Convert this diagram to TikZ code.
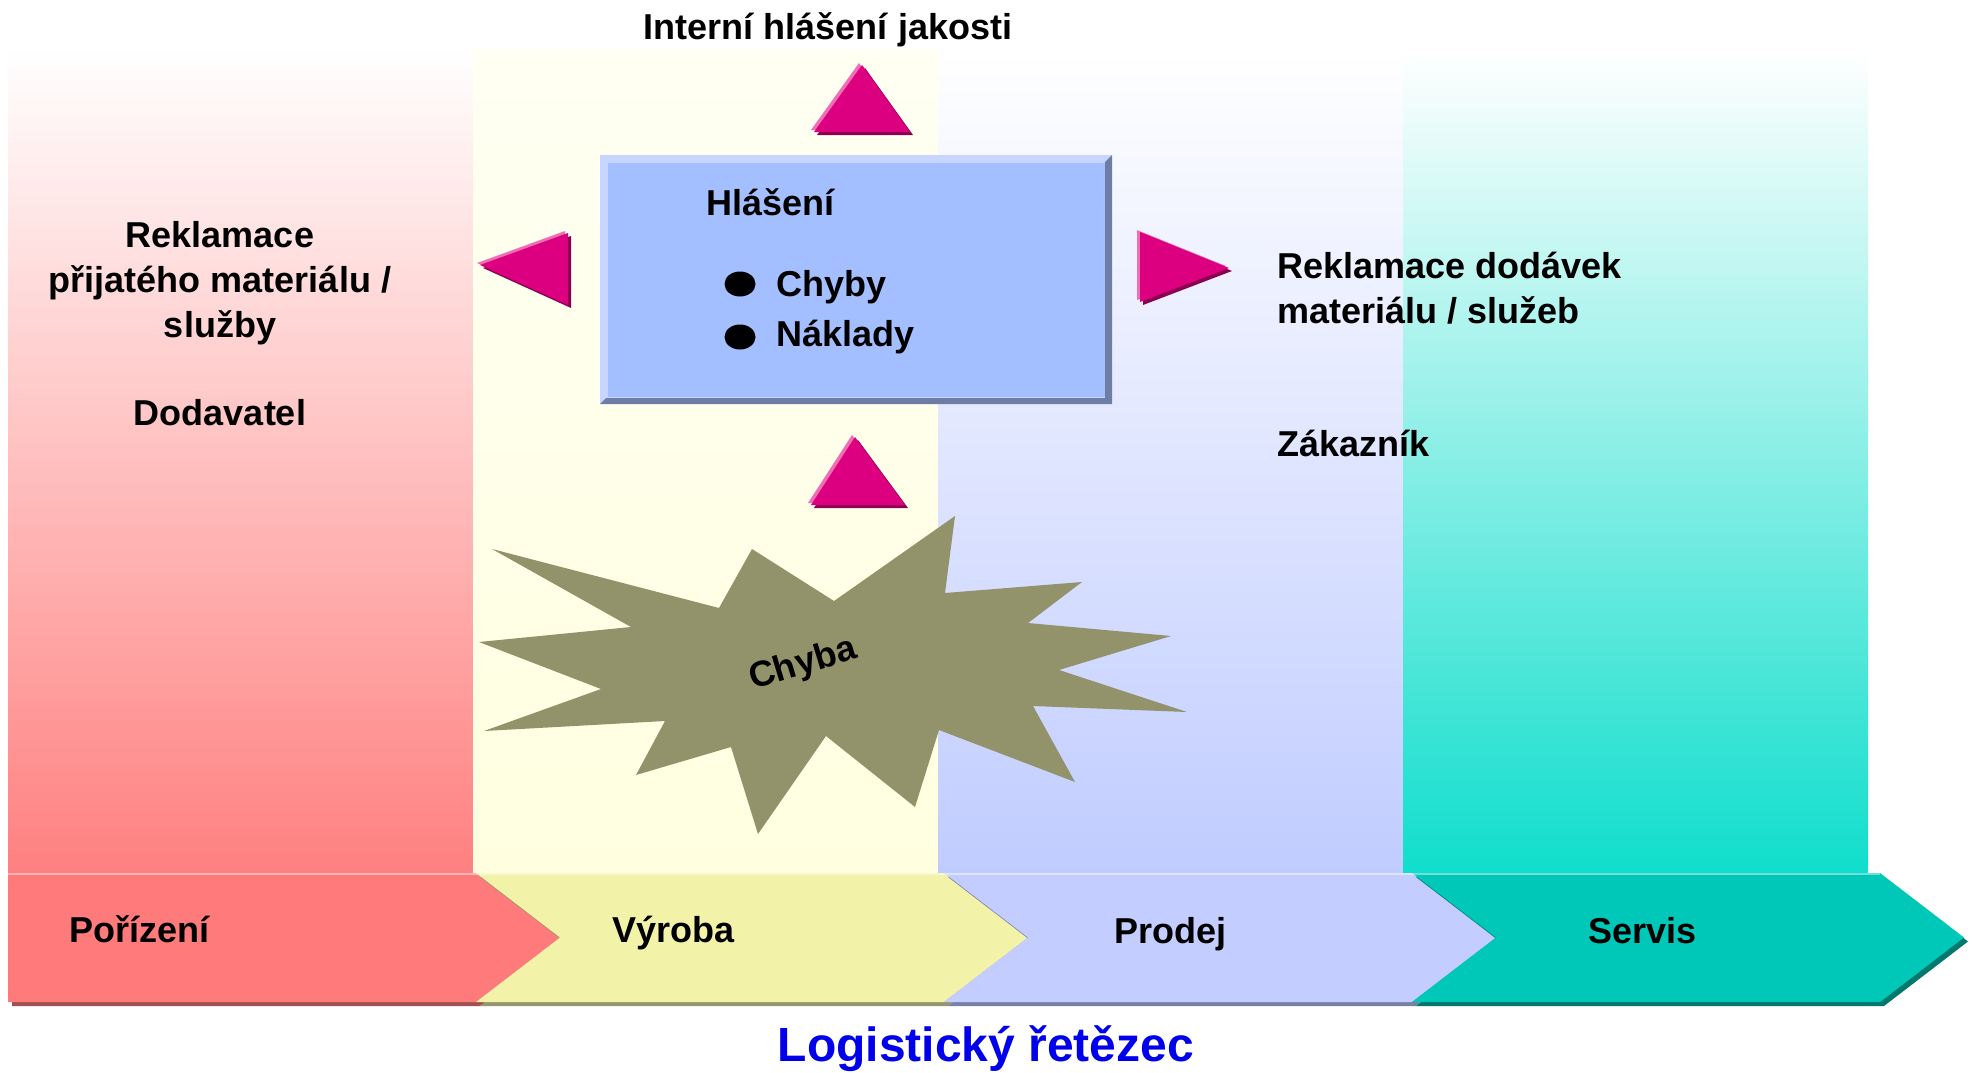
\documentclass[tikz,border=0pt]{standalone}
\usepackage{fontspec}
\setmainfont{Liberation Sans}
\usetikzlibrary{positioning,shapes.geometric}

\definecolor{redcol}{RGB}{255,128,128}
\definecolor{yelcol}{RGB}{255,255,224}
\definecolor{bluecol}{RGB}{192,204,255}
\definecolor{tealcol}{RGB}{16,222,204}
\definecolor{redchev}{RGB}{255,122,122}
\definecolor{yelchev}{RGB}{242,242,168}
\definecolor{bluechev}{RGB}{195,205,255}
\definecolor{tealchev}{RGB}{0,200,184}
\definecolor{redchevdark}{RGB}{160,80,80}
\definecolor{yelchevdark}{RGB}{150,150,110}
\definecolor{bluechevdark}{RGB}{120,128,165}
\definecolor{tealchevdark}{RGB}{0,120,110}
\definecolor{pink}{RGB}{220,0,128}
\definecolor{pinklight}{RGB}{240,110,180}
\definecolor{pinkdark}{RGB}{140,0,80}
\definecolor{boxfill}{RGB}{164,191,255}
\definecolor{boxlight}{RGB}{200,214,255}
\definecolor{boxdark}{RGB}{110,125,165}
\definecolor{burst}{RGB}{146,147,106}
\definecolor{chainblue}{RGB}{0,0,235}

% pink triangle with light and dark edge
\newcommand\pinktri[3]{%
  \fill[pinklight] ([shift={(-3,-2)}]#1) -- ([shift={(-3,-2)}]#2) -- ([shift={(-3,-2)}]#3) -- cycle;
  \fill[pinkdark] ([shift={(3,3)}]#1) -- ([shift={(3,3)}]#2) -- ([shift={(3,3)}]#3) -- cycle;
  \fill[pink] (#1) -- (#2) -- (#3) -- cycle;}

\begin{document}
\begin{tikzpicture}[x=1pt, y=-1pt,
every node/.style={font=\fontsize{36}{45}\selectfont\bfseries, inner sep=0pt},
lbl/.style={anchor=base west},
ctr/.style={anchor=base, align=center},
dot/.style={ellipse, fill=black, minimum width=31, minimum height=25}
]
  \useasboundingbox (0,0) rectangle (1973,1073);

  % columns
  \shade[top color=white, bottom color=redcol] (8,50) rectangle (473,872);
  \shade[top color=yelcol!40, bottom color=yelcol] (473,50) rectangle (938,872);
  \shade[top color=white, bottom color=bluecol] (938,50) rectangle (1403,872);
  \shade[top color=white, bottom color=tealcol] (1403,50) rectangle (1868,872);

  % logistic chain
  \foreach \x/\n/\c in {8/0/redchev, 476/84/yelchev, 944/84/bluechev, 1412/84/tealchev}{
    \fill[\c dark] (\x+4,877) -- ++(468,0) -- ++(84,64.5) -- ++(-84,64.5) -- ++(-468,0) -- ++(\n,-64.5) -- cycle;
    \fill[\c] (\x,873) -- ++(468,0) -- ++(84,64.5) -- ++(-84,64.5) -- ++(-468,0) -- ++(\n,-64.5) -- cycle;
    \draw[white, opacity=.45, line width=2] (\x,874) -- ++(468,0);
  }
  \node[lbl] (porizeni) at (69,942) {Pořízení};
  \node[lbl] (vyroba) at (612,942) {Výroba};
  \node[lbl] (prodej) at (1114,943) {Prodej};
  \node[lbl] (servis) at (1588,943) {Servis};
  \node[ctr, font=\fontsize{48}{56}\selectfont\bfseries, text=chainblue] (chain) at (986,1061) {Logistický řetězec};

  % box
  \fill[boxlight] (600,155) rectangle (1112,404);
  \fill[boxdark] (1112,155) -- (1112,404) -- (600,404) -- (606,398) -- (1105,398) -- (1105,162) -- cycle;
  \fill[boxfill] (608,163) rectangle (1105,397);
  \node[lbl] (hlaseni) at (706,215) {Hlášení};
  \node[lbl] (chyby) at (776,296) {Chyby};
  \node[lbl] (naklady) at (776,346) {Náklady};
  \node[dot] (dot1) at (740,284) {};
  \node[dot] (dot2) at (740,337) {};

  % triangles
  \pinktri{862,65}{910,132}{814,132}
  \pinktri{855,437}{905,505}{811,505}
  \pinktri{480,265}{568,233}{568,305}
  \pinktri{1140,232}{1229,268}{1140,302}

  % burst
  \fill[burst] (492,549) -- (631,627) -- (479,642) -- (601,689) -- (484,731) -- (665,721)
    -- (636,775) -- (731,747) -- (758,834) -- (826,736) -- (915,807) -- (939,730)
    -- (1075,782) -- (1033,706) -- (1187,712) -- (1059,670) -- (1171,636) -- (1028,623)
    -- (1082,582) -- (945,593) -- (955,516) -- (834,601) -- (752,549) -- (719,608) -- cycle;
  \node[rotate=17, font=\fontsize{36}{40}\selectfont\bfseries] (chyba) at (803,665) {Chyba};

  % texts
  \node[ctr] (interni) at (828,40) {Interní hlášení jakosti};
  \node[ctr] (reklamace) at (220,337) {Reklamace\\přijatého materiálu /\\služby};
  \node[ctr] (dodavatel) at (220,425) {Dodavatel};
  \node[anchor=base west, align=left] (reklamace2) at (1277,323) {Reklamace dodávek\\materiálu / služeb};
  \node[lbl] (zakaznik) at (1277,456) {Zákazník};
\end{tikzpicture}
\end{document}
